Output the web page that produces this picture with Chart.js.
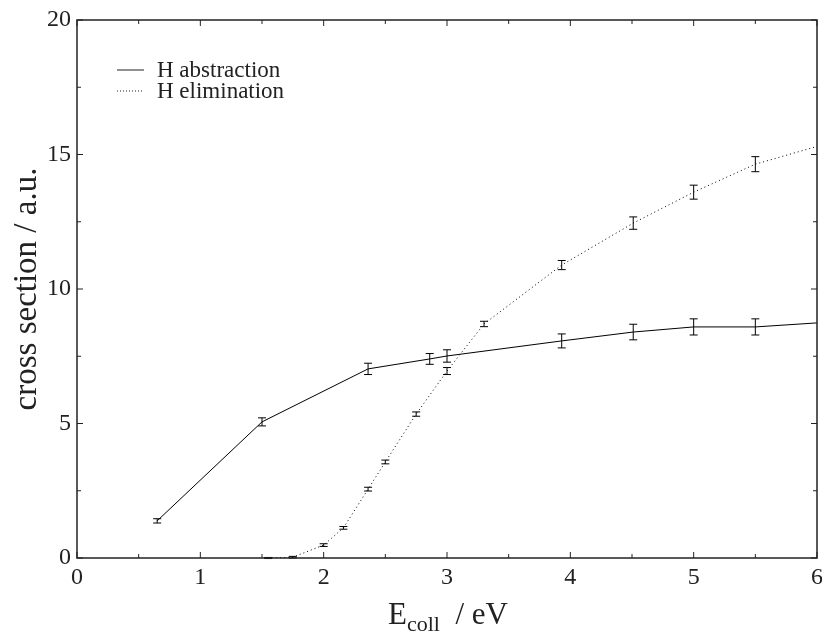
<!DOCTYPE html>
<html>
<head>
<meta charset="utf-8">
<script src="https://cdn.jsdelivr.net/npm/chart.js@4.4.1/dist/chart.umd.min.js"></script>
<style>
  body { margin: 0; background: #fff; }
  #wrap { width: 822px; height: 635px; }
</style>
</head>
<body>
<div id="wrap"><canvas id="crossChart"></canvas></div>
<script>
// H abstraction (solid line)
const abstrE   = [0.65, 1.5, 2.36, 2.86, 3.0, 3.93, 4.51, 5.0, 5.5, 6.0];
const abstrSig = [1.38, 5.06, 7.03, 7.40, 7.51, 8.07, 8.40, 8.59, 8.59, 8.74];
const abstrErr = [0.08, 0.15, 0.21, 0.20, 0.23, 0.26, 0.29, 0.30, 0.30, 0];

// H elimination (dotted line)
const elimE   = [1.55, 1.75, 2.0, 2.16, 2.36, 2.5, 2.75, 3.0, 3.3, 3.93, 4.51, 5.0, 5.5, 6.0];
const elimSig = [0.0, 0.03, 0.48, 1.12, 2.56, 3.57, 5.35, 6.95, 8.70, 10.89, 12.45, 13.6, 14.64, 15.3];
const elimErr = [0.02, 0.03, 0.05, 0.05, 0.07, 0.07, 0.08, 0.13, 0.1, 0.17, 0.23, 0.26, 0.28, 0];

const xTicks = [0, 1, 2, 3, 4, 5, 6];
const yTicks = [0, 5, 10, 15, 20];

const serif = "'Liberation Serif', 'DejaVu Serif', serif";

function toPoints(xs, ys) {
    return xs.map((x, i) => ({ x: x, y: ys[i] }));
}

const errorBars = {
    id: 'errorBars',
    afterDatasetsDraw(chart) {
        const ctx = chart.ctx;
        const xs = chart.scales.x, ys = chart.scales.y;
        ctx.save();
        ctx.strokeStyle = '#000';
        ctx.lineWidth = 1;
        chart.data.datasets.forEach(ds => {
            ds.data.forEach((p, i) => {
                const e = ds.errors[i];
                if (!e) return;
                const px = xs.getPixelForValue(p.x);
                const top = ys.getPixelForValue(p.y + e);
                const bot = ys.getPixelForValue(p.y - e);
                ctx.beginPath();
                ctx.moveTo(px, top); ctx.lineTo(px, bot);
                ctx.moveTo(px - 4, top); ctx.lineTo(px + 4, top);
                ctx.moveTo(px - 4, bot); ctx.lineTo(px + 4, bot);
                ctx.stroke();
            });
        });
        ctx.restore();
    }
};

const frameAndTicks = {
    id: 'frameAndTicks',
    afterDraw(chart) {
        const ctx = chart.ctx;
        const a = chart.chartArea;
        const xs = chart.scales.x, ys = chart.scales.y;
        ctx.save();
        ctx.strokeStyle = '#222';
        ctx.lineWidth = 1.5;
        ctx.strokeRect(a.left, a.top, a.right - a.left, a.bottom - a.top);

        // inward ticks on all four sides, minor ones in between
        ctx.lineWidth = 1;
        ctx.beginPath();
        for (let v = 0; v <= 6.001; v += 0.5) {
            const px = xs.getPixelForValue(v);
            const len = (Math.abs(v - Math.round(v)) < 0.01) ? 6 : 4;
            ctx.moveTo(px, a.bottom); ctx.lineTo(px, a.bottom - len);
            ctx.moveTo(px, a.top); ctx.lineTo(px, a.top + len);
        }
        for (let v = 0; v <= 20.001; v += 2.5) {
            const py = ys.getPixelForValue(v);
            const len = (v % 5 === 0) ? 6 : 4;
            ctx.moveTo(a.left, py); ctx.lineTo(a.left + len, py);
            ctx.moveTo(a.right, py); ctx.lineTo(a.right - len, py);
        }
        ctx.stroke();

        // legend
        ctx.fillStyle = '#222';
        ctx.font = '23px ' + serif;
        ctx.textBaseline = 'alphabetic';
        const items = [
            { label: 'H abstraction', dash: [], y: 70 },
            { label: 'H elimination', dash: [1, 2], y: 91 }
        ];
        items.forEach(it => {
            ctx.setLineDash(it.dash);
            ctx.beginPath();
            ctx.moveTo(117, it.y); ctx.lineTo(144, it.y);
            ctx.stroke();
            ctx.setLineDash([]);
            ctx.fillText(it.label, 157, it.y + 7);
        });

        // x axis title with subscript
        const cx = (a.left + a.right) / 2;
        ctx.font = '31px ' + serif;
        const wE = ctx.measureText('E').width;
        ctx.font = '22px ' + serif;
        const wSub = ctx.measureText('coll').width;
        ctx.font = '31px ' + serif;
        const wRest = ctx.measureText('  / eV').width;
        let x0 = cx - (wE + wSub + wRest) / 2 + 1;
        ctx.textAlign = 'left';
        ctx.fillText('E', x0, 624);
        ctx.font = '22px ' + serif;
        ctx.fillText('coll', x0 + wE, 631);
        ctx.font = '31px ' + serif;
        ctx.fillText('  / eV', x0 + wE + wSub, 624);
        ctx.restore();
    }
};

new Chart(document.getElementById('crossChart'), {
    type: 'scatter',
    data: {
        datasets: [
            {
                label: 'H abstraction',
                data: toPoints(abstrE, abstrSig),
                errors: abstrErr,
                showLine: true,
                borderColor: '#000',
                borderWidth: 1,
                pointRadius: 0,
                tension: 0
            },
            {
                label: 'H elimination',
                data: toPoints(elimE, elimSig),
                errors: elimErr,
                showLine: true,
                borderColor: '#000',
                borderWidth: 1,
                borderDash: [1, 3],
                pointRadius: 0,
                tension: 0
            }
        ]
    },
    options: {
        responsive: true,
        maintainAspectRatio: false,
        animation: false,
        layout: { padding: { top: 20, right: 5 } },
        plugins: {
            legend: { display: false },
            tooltip: { enabled: false }
        },
        scales: {
            x: {
                type: 'linear',
                min: 0,
                max: 6,
                afterFit: s => { s.height = 77; s.paddingLeft = 0; s.paddingRight = 0; },
                afterBuildTicks: s => { s.ticks = xTicks.map(v => ({ value: v })); },
                grid: { display: false, drawTicks: false },
                border: { display: false },
                ticks: { color: '#222', padding: 5, font: { family: serif, size: 24 } }
            },
            y: {
                min: 0,
                max: 20,
                afterFit: s => { s.width = 77; s.paddingTop = 0; s.paddingBottom = 0; },
                afterBuildTicks: s => { s.ticks = yTicks.map(v => ({ value: v })); },
                grid: { display: false, drawTicks: false },
                border: { display: false },
                ticks: { color: '#222', padding: 6, font: { family: serif, size: 24 } },
                title: {
                    display: true,
                    text: 'cross section / a.u.',
                    color: '#222',
                    padding: { top: 8, bottom: 4 },
                    font: { family: serif, size: 33 }
                }
            }
        }
    },
    plugins: [errorBars, frameAndTicks]
});
</script>
</body>
</html>
